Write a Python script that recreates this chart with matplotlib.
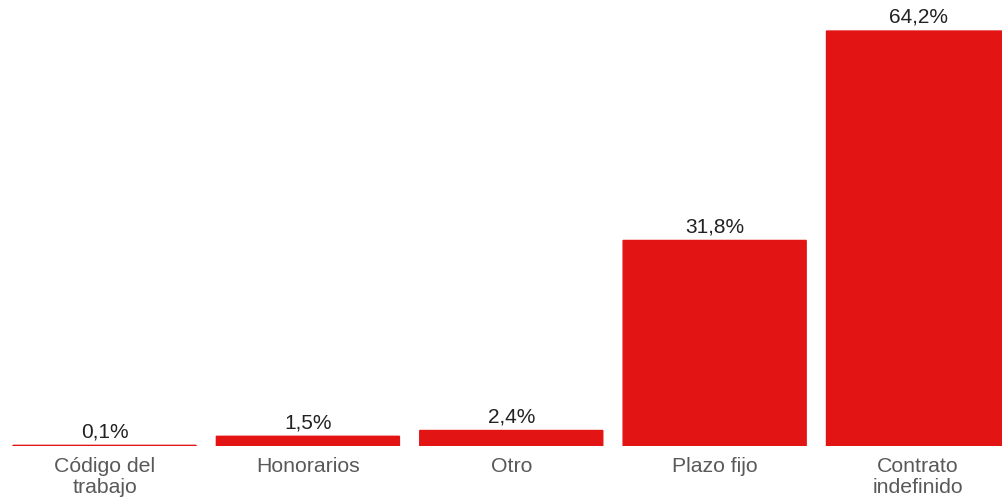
import matplotlib
matplotlib.use('Agg')
import matplotlib.pyplot as plt

categories = ['Código del\ntrabajo', 'Honorarios', 'Otro', 'Plazo fijo', 'Contrato\nindefinido']
values = [0.1, 1.5, 2.4, 31.8, 64.2]
labels = ['0,1%', '1,5%', '2,4%', '31,8%', '64,2%']

plt.rcParams['font.family'] = ['Liberation Sans', 'DejaVu Sans']

fig = plt.figure(figsize=(10.02, 4.97), dpi=100)
ax = fig.add_axes([0, 51 / 497, 1, 446 / 497])

x = range(len(values))
bars = ax.bar(x, values, width=0.9, color='#e31414',
              edgecolor='#e31414', linewidth=1.0, snap=False)
for b, lab in zip(bars, labels):
    ax.annotate(lab, (b.get_x() + b.get_width() / 2, b.get_height()),
                xytext=(0, 3), textcoords='offset points',
                ha='center', va='bottom', fontsize=15, color='#222222')

ax.set_xlim(-0.514, 4.413)
ax.set_ylim(0, 69.0)
ax.set_xticks(list(x))
ax.set_xticklabels(categories, fontsize=15.3, color='#595959', linespacing=1.15)
ax.tick_params(axis='x', length=0, pad=8)
ax.set_yticks([])
for s in ax.spines.values():
    s.set_visible(False)

fig.savefig('out.png', dpi=100)
